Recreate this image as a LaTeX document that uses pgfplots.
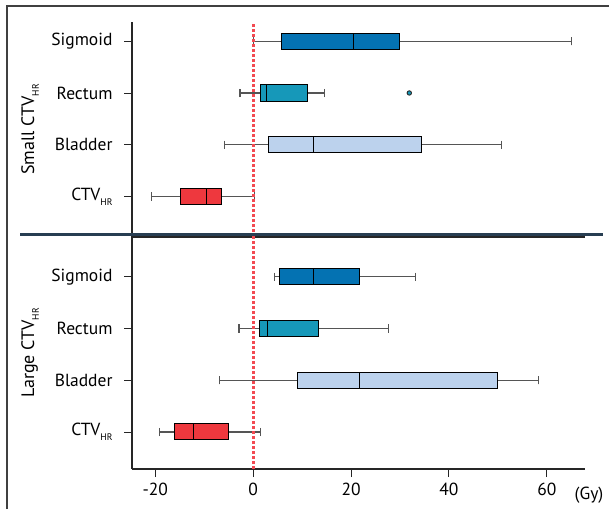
\documentclass[border=0pt]{standalone}
\usepackage{pgfplots}
\pgfplotsset{compat=1.18}
\usepgfplotslibrary{statistics}
\usepackage{fontspec}
\setmainfont{PT Sans}

\definecolor{sig}{HTML}{0472B2}
\definecolor{rec}{HTML}{1698B9}
\definecolor{bla}{HTML}{BCD2ED}
\definecolor{ctv}{HTML}{EE383E}
\definecolor{navy}{HTML}{283E52}
\definecolor{ptred}{HTML}{F24A52}
\definecolor{wgray}{HTML}{555555}

\newcommand{\hr}{\raisebox{-0.55ex}{\fontsize{9.5}{9.5}\selectfont HR}}

\pgfplotsset{
  panel/.style={
    scale only axis, width=453pt,
    xmin=-24.76, xmax=67.8,
    axis x line*=bottom, axis y line*=left,
    ytick={1,2,3,4},
    yticklabels={CTV\hr, Bladder, Rectum, Sigmoid},
    tick align=outside, major tick length=8pt,
    tick style={black!85, line width=0.9pt},
    axis line style={black!85, line width=1.1pt, -},
    ticklabel style={font=\fontsize{17.5}{20}\selectfont},
    yticklabel style={xshift=-8pt},
    /pgf/number format/assume math mode=true,
    ylabel style={at={(axis description cs:-0.225,0.5)}, anchor=center, font=\fontsize{18}{20}\selectfont},
    boxplot/draw direction=x,
    boxplot/box extend=0.31,
    boxplot/whisker extend=0.16,
    boxplot/every whisker/.style={wgray, line width=1.1pt},
    clip=false,
  },
  bx/.style={draw=black, line width=1pt, fill=#1},
  dotline/.style={ptred, line width=2.8pt, dash pattern=on 2.6pt off 2.4pt},
}

\begin{document}
\begin{tikzpicture}[x=1pt,y=1pt]
\useasboundingbox (0pt,0pt) rectangle (609pt,509pt);
\draw[black!75, line width=1.3pt] (7pt,0pt) -- (7pt,503pt) -- (609pt,503pt);

% top panel: Small CTV_HR
\begin{axis}[panel, at={(132pt,272pt)}, anchor=south west, height=215pt,
  ymin=0.22, ymax=4.37, xtick=\empty, ylabel={Small CTV\hr}]
  \addplot[bx=sig, boxplot prepared={lower whisker=0, lower quartile=5.7, median=20.4, upper quartile=29.9, upper whisker=65.0, draw position=4}] coordinates {};
  \addplot[bx=rec, boxplot prepared={lower whisker=-2.7, lower quartile=1.4, median=2.7, upper quartile=11.1, upper whisker=14.5, draw position=3}] coordinates {};
  \addplot[bx=bla, boxplot prepared={lower whisker=-5.9, lower quartile=3.2, median=12.4, upper quartile=34.4, upper whisker=50.8, draw position=2}] coordinates {};
  \addplot[bx=ctv, boxplot prepared={lower whisker=-20.7, lower quartile=-14.9, median=-9.5, upper quartile=-6.4, upper whisker=0.3, draw position=1}] coordinates {};
  \addplot[only marks, mark=*, mark size=2.2pt, mark options={fill=rec, draw=black!85, line width=0.9pt}] coordinates {(31.9,3)};
  \addplot[dotline] coordinates {(0,0.22) (0,4.37)};
\end{axis}

\draw[navy, line width=2.6pt] (20pt,274.5pt) -- (603pt,274.5pt);

% bottom panel: Large CTV_HR
\begin{axis}[panel, at={(132pt,40pt)}, anchor=south west, height=232pt,
  ymin=0.284, ymax=4.77, xtick={-20,0,20,40,60}, ylabel={Large CTV\hr},
  xticklabel style={yshift=-3pt}]
  \addplot[bx=sig, boxplot prepared={lower whisker=4.3, lower quartile=5.4, median=12.3, upper quartile=21.8, upper whisker=33.2, draw position=4}] coordinates {};
  \addplot[bx=rec, boxplot prepared={lower whisker=-2.9, lower quartile=1.2, median=3.0, upper quartile=13.3, upper whisker=27.7, draw position=3}] coordinates {};
  \addplot[bx=bla, boxplot prepared={lower whisker=-6.9, lower quartile=9.0, median=21.7, upper quartile=50.0, upper whisker=58.3, draw position=2}] coordinates {};
  \addplot[bx=ctv, boxplot prepared={lower whisker=-19.2, lower quartile=-16.0, median=-12.2, upper quartile=-5.1, upper whisker=1.5, draw position=1}] coordinates {};
  \addplot[dotline] coordinates {(0,0.284) (0,4.77)};
\end{axis}

\node[font=\fontsize{17.5}{20}\selectfont] at (589pt,14pt) {(Gy)};
\end{tikzpicture}
\end{document}
